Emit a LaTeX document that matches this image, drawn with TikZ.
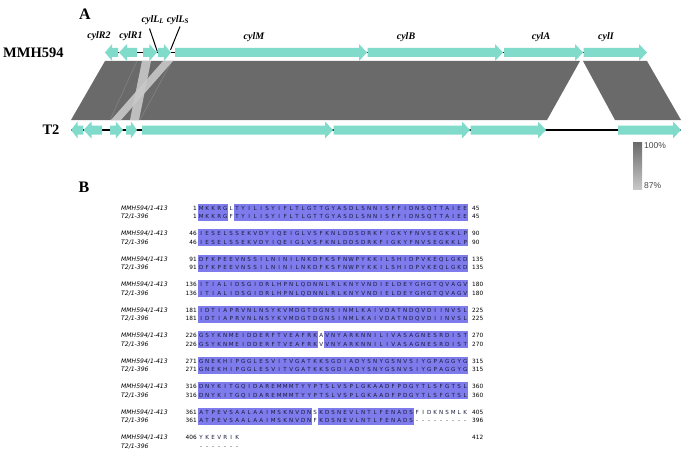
\documentclass[tikz,border=0pt]{standalone}
\usepackage{fontspec}
\setmainfont{Liberation Serif}
\newfontfamily\seqfont{DejaVu Sans}
\newfontfamily\barfont{Liberation Sans}
\definecolor{genecol}{RGB}{128,219,203}
\definecolor{darkband}{RGB}{106,106,106}
\definecolor{lightband}{RGB}{200,200,200}
\definecolor{faintcol}{RGB}{138,138,138}
\definecolor{hlcol}{RGB}{126,124,236}
\definecolor{seqtext}{RGB}{25,25,60}
\definecolor{barlight}{RGB}{200,200,200}
\definecolor{bartext}{RGB}{70,70,70}
\makeatletter
\newcommand{\seqchars}[1]{\myseq@loop#1\relax}
\def\myseq@loop#1{\ifx#1\relax\else\makebox[6pt][c]{#1}\expandafter\myseq@loop\fi}
\makeatother
% right-pointing gene: x1, x2, y
\newcommand{\gR}[3]{%
  \pgfmathsetmacro\hh{min(8,0.55*(#2-#1))}%
  \fill[genecol] ({#1},{#3-4.5}) -- ({#2-\hh},{#3-4.5}) -- ({#2-\hh},{#3-8.5}) -- ({#2},{#3}) -- ({#2-\hh},{#3+8.5}) -- ({#2-\hh},{#3+4.5}) -- ({#1},{#3+4.5}) -- cycle;}
% left-pointing gene: x1 (tip), x2, y
\newcommand{\gL}[3]{%
  \pgfmathsetmacro\hh{min(8,0.55*(#2-#1))}%
  \fill[genecol] ({#2},{#3-4.5}) -- ({#1+\hh},{#3-4.5}) -- ({#1+\hh},{#3-8.5}) -- ({#1},{#3}) -- ({#1+\hh},{#3+8.5}) -- ({#1+\hh},{#3+4.5}) -- ({#2},{#3+4.5}) -- cycle;}
\newcommand{\hlbox}[3]{\fill[hlcol] ({198+6*(#2-1)},{#1-4.3}) rectangle ({198+6*(#3)},{#1+12.8});}
\newcommand{\seqline}[6]{%
  \node[namest] (nm#1) at (121,#2) {#3};
  \node[numst,anchor=east] (st#1) at (197,#2) {#4};
  \node[seqst] (sq#1) at (198,#2) {\seqchars{#5}};
  \node[numst,anchor=west] (en#1) at (472,#2) {#6};}
\begin{document}
\begin{tikzpicture}[x=1pt,y=-1pt,
  spine/.style={line width=1.4pt,black},
  labline/.style={line width=1pt,black},
  bigl/.style={inner sep=0pt,font=\bfseries\fontsize{16}{18}\selectfont},
  trk/.style={inner sep=0pt,font=\bfseries\fontsize{14.5}{16}\selectfont},
  genel/.style={inner sep=0pt,font=\bfseries\itshape\fontsize{10}{12}\selectfont},
  bartxt/.style={anchor=west,inner sep=0pt,text=bartext,font=\barfont\fontsize{8.5}{10}\selectfont},
  namest/.style={anchor=west,inner sep=0pt,font=\seqfont\itshape\fontsize{6.1}{7}\selectfont,text height=4.4pt,text depth=0pt},
  seqst/.style={anchor=west,inner sep=0pt,text=seqtext,font=\seqfont\fontsize{5.6}{7}\selectfont,text height=4.4pt,text depth=0pt},
  numst/.style={inner sep=0pt,font=\seqfont\fontsize{5.8}{7}\selectfont,text height=4.4pt,text depth=0pt}]
\useasboundingbox (0,0) rectangle (685,452);
% ---------------- Panel A
\node[bigl] (A) at (85,14) {A};
\node[trk,anchor=west] (m594) at (3,53) {MMH594};
\node[trk] (t2) at (51,129.5) {T2};
% similarity bands
\fill[darkband] (105,61) -- (580,61) -- (547,120) -- (71,120) -- cycle;
\fill[darkband] (583,61) -- (647,61) -- (681,120) -- (615,120) -- cycle;
\draw[faintcol,line width=0.4pt] (137,61) -- (110,120);
\draw[faintcol,line width=0.4pt] (172,61) -- (140,120);
\fill[lightband,opacity=0.9] (142,61) -- (151,61) -- (139,120) -- (130,120) -- cycle;
\fill[lightband,opacity=0.9] (163,61) -- (173,61) -- (121,120) -- (111,120) -- cycle;
% MMH594 track
\draw[spine] (105,52.5) -- (647,52.5);
\gL{105}{118}{52.5}
\gL{119}{137}{52.5}
\gR{143}{157}{52.5}
\gR{158}{171}{52.5}
\gR{175}{367}{52.5}
\gR{367.5}{503}{52.5}
\gR{504}{583}{52.5}
\gR{583.5}{647}{52.5}
% T2 track
\draw[spine] (71,130) -- (681,130);
\gL{71}{83}{130}
\gL{83.5}{102}{130}
\gR{110}{123}{130}
\gR{126}{137}{130}
\gR{142}{333}{130}
\gR{333.5}{470}{130}
\gR{470.5}{546}{130}
\gR{618}{681}{130}
% gene labels
\node[genel] (lR2) at (99,36) {cylR2};
\node[genel] (lR1) at (131,36) {cylR1};
\node[genel] (lLL) at (153,20) {cylL\textsubscript{L}};
\node[genel] (lLS) at (178,20) {cylL\textsubscript{S}};
\node[genel] (lM) at (254,37) {cylM};
\node[genel] (lB) at (406,37) {cylB};
\node[genel] (lA) at (541,37) {cylA};
\node[genel] (lI) at (606,37) {cylI};
\coordinate (aLL) at (149.5,28.5);
\coordinate (bLL) at (157.3,51.5);
\coordinate (aLS) at (180,26.5);
\coordinate (bLS) at (170.5,50);
\draw[labline] (aLL) -- (bLL);
\draw[labline] (aLS) -- (bLS);
% colour bar
\shade[top color=darkband,bottom color=barlight] (633,142) rectangle (642,189);
\node[bartxt] (p100) at (644,146) {100\%};
\node[bartxt] (p87) at (644,186) {87\%};
% ---------------- Panel B
\node[bigl] (B) at (84,187) {B};
% highlights
\hlbox{208}{1}{5}\hlbox{208}{7}{45}
\hlbox{233.5}{1}{45}
\hlbox{259}{1}{45}
\hlbox{284.5}{1}{45}
\hlbox{310}{1}{45}
\hlbox{335.5}{1}{20}\hlbox{335.5}{22}{45}
\hlbox{361}{1}{45}
\hlbox{386.5}{1}{45}
\hlbox{412}{1}{19}\hlbox{412}{21}{36}
% sequences
\seqline{m1}{208}{MMH594/1-413}{1}{MKKRGLTYILISYIFLTLGTTGYASDLSNNISFFIDNSQTTAIEE}{45}
\seqline{t1}{216.5}{T2/1-396}{1}{MKKRGFTYILISYIFLTLGTTGYASDLSNNISFFIDNSQTTAIEE}{45}
\seqline{m2}{233.5}{MMH594/1-413}{46}{IESELSSEKVDYIQEIGLVSFKNLDDSDRKFIGKYFNVSEGKKLP}{90}
\seqline{t2}{242}{T2/1-396}{46}{IESELSSEKVDYIQEIGLVSFKNLDDSDRKFIGKYFNVSEGKKLP}{90}
\seqline{m3}{259}{MMH594/1-413}{91}{DFKPEEVNSSILNINILNKDFKSFNWPYKKILSHIDPVKEQLGKD}{135}
\seqline{t3}{267.5}{T2/1-396}{91}{DFKPEEVNSSILNINILNKDFKSFNWPYKKILSHIDPVKEQLGKD}{135}
\seqline{m4}{284.5}{MMH594/1-413}{136}{ITIALIDSGIDRLHPNLQDNNLRLKNYVNDIELDEYGHGTQVAGV}{180}
\seqline{t4}{293}{T2/1-396}{136}{ITIALIDSGIDRLHPNLQDNNLRLKNYVNDIELDEYGHGTQVAGV}{180}
\seqline{m5}{310}{MMH594/1-413}{181}{IDTIAPRVNLNSYKVMDGTDGNSINMLKAIVDATNDQVDIINVSL}{225}
\seqline{t5}{318.5}{T2/1-396}{181}{IDTIAPRVNLNSYKVMDGTDGNSINMLKAIVDATNDQVDIINVSL}{225}
\seqline{m6}{335.5}{MMH594/1-413}{226}{GSYKNMEIDDERFTVEAFRKAVNYARKNNILIVASAGNESRDIST}{270}
\seqline{t6}{344}{T2/1-396}{226}{GSYKNMEIDDERFTVEAFRKVVNYARKNNILIVASAGNESRDIST}{270}
\seqline{m7}{361}{MMH594/1-413}{271}{GNEKHIPGGLESVITVGATKKSGDIADYSNYGSNVSIYGPAGGYG}{315}
\seqline{t7}{369.5}{T2/1-396}{271}{GNEKHIPGGLESVITVGATKKSGDIADYSNYGSNVSIYGPAGGYG}{315}
\seqline{m8}{386.5}{MMH594/1-413}{316}{DNYKITGQIDAREMMMTYYPTSLVSPLGKAADFPDGYTLSFGTSL}{360}
\seqline{t8}{395}{T2/1-396}{316}{DNYKITGQIDAREMMMTYYPTSLVSPLGKAADFPDGYTLSFGTSL}{360}
\seqline{m9}{412}{MMH594/1-413}{361}{ATPEVSAALAAIMSKNVDNSKDSNEVLNTLFENADSFIDKNSMLK}{405}
\seqline{t9}{420.5}{T2/1-396}{361}{ATPEVSAALAAIMSKNVDNFKDSNEVLNTLFENADS---------}{396}
\node[namest] (nmm10) at (121,437.5) {MMH594/1-413};
\node[numst,anchor=east] (stm10) at (197,437.5) {406};
\node[seqst] (sqm10) at (198,437.5) {\seqchars{YKEVRIK}};
\node[numst,anchor=west] (enm10) at (472,437.5) {412};
\node[namest] (nmt10) at (121,446) {T2/1-396};
\node[seqst] (sqt10) at (198,446) {\seqchars{-------}};
\end{tikzpicture}
\end{document}
